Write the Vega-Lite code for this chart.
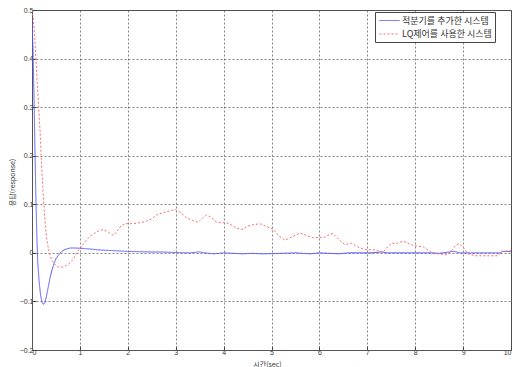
{
  "$schema": "https://vega.github.io/schema/vega-lite/v6.json",
  "width": 479,
  "height": 340,
  "autosize": {"type": "none"},
  "padding": {"left": 32, "top": 10, "right": 2, "bottom": 17},
  "background": "white",
  "config": {
    "view": {"stroke": "#555555", "strokeWidth": 1},
    "axis": {
      "domainColor": "#555555",
      "domainWidth": 1,
      "gridColor": "#444444",
      "gridDash": [2, 2],
      "gridWidth": 0.8,
      "gridOpacity": 0.8,
      "ticks": true,
      "tickColor": "#444444",
      "tickSize": -4,
      "labelFont": "Liberation Sans",
      "labelFontSize": 7,
      "labelColor": "#333333",
      "titleFont": "Noto Sans CJK KR",
      "titleFontSize": 7,
      "titleFontWeight": "normal",
      "titleColor": "#333333"
    }
  },
  "data": {
    "values": [
      {"t": 0, "v": 0.48, "s": "적분기를 추가한 시스템"},
      {"t": 0.02, "v": 0.42, "s": "적분기를 추가한 시스템"},
      {"t": 0.04, "v": 0.33, "s": "적분기를 추가한 시스템"},
      {"t": 0.06, "v": 0.22, "s": "적분기를 추가한 시스템"},
      {"t": 0.08, "v": 0.12, "s": "적분기를 추가한 시스템"},
      {"t": 0.10, "v": 0.04, "s": "적분기를 추가한 시스템"},
      {"t": 0.12, "v": -0.02, "s": "적분기를 추가한 시스템"},
      {"t": 0.15, "v": -0.06, "s": "적분기를 추가한 시스템"},
      {"t": 0.18, "v": -0.088, "s": "적분기를 추가한 시스템"},
      {"t": 0.21, "v": -0.102, "s": "적분기를 추가한 시스템"},
      {"t": 0.24, "v": -0.106, "s": "적분기를 추가한 시스템"},
      {"t": 0.27, "v": -0.102, "s": "적분기를 추가한 시스템"},
      {"t": 0.30, "v": -0.09, "s": "적분기를 추가한 시스템"},
      {"t": 0.34, "v": -0.07, "s": "적분기를 추가한 시스템"},
      {"t": 0.38, "v": -0.05, "s": "적분기를 추가한 시스템"},
      {"t": 0.42, "v": -0.034, "s": "적분기를 추가한 시스템"},
      {"t": 0.46, "v": -0.022, "s": "적분기를 추가한 시스템"},
      {"t": 0.50, "v": -0.012, "s": "적분기를 추가한 시스템"},
      {"t": 0.55, "v": -0.005, "s": "적분기를 추가한 시스템"},
      {"t": 0.60, "v": 0.001, "s": "적분기를 추가한 시스템"},
      {"t": 0.65, "v": 0.005, "s": "적분기를 추가한 시스템"},
      {"t": 0.72, "v": 0.008, "s": "적분기를 추가한 시스템"},
      {"t": 0.80, "v": 0.01, "s": "적분기를 추가한 시스템"},
      {"t": 0.90, "v": 0.01, "s": "적분기를 추가한 시스템"},
      {"t": 1.0, "v": 0.0095, "s": "적분기를 추가한 시스템"},
      {"t": 1.2, "v": 0.008, "s": "적분기를 추가한 시스템"},
      {"t": 1.4, "v": 0.006, "s": "적분기를 추가한 시스템"},
      {"t": 1.6, "v": 0.005, "s": "적분기를 추가한 시스템"},
      {"t": 1.8, "v": 0.004, "s": "적분기를 추가한 시스템"},
      {"t": 2.0, "v": 0.003, "s": "적분기를 추가한 시스템"},
      {"t": 2.4, "v": 0.002, "s": "적분기를 추가한 시스템"},
      {"t": 2.8, "v": 0.0015, "s": "적분기를 추가한 시스템"},
      {"t": 3.0, "v": 0.0005, "s": "적분기를 추가한 시스템"},
      {"t": 3.3, "v": 0, "s": "적분기를 추가한 시스템"},
      {"t": 3.5, "v": 0.002, "s": "적분기를 추가한 시스템"},
      {"t": 3.6, "v": 0, "s": "적분기를 추가한 시스템"},
      {"t": 3.8, "v": -0.002, "s": "적분기를 추가한 시스템"},
      {"t": 4.0, "v": 0, "s": "적분기를 추가한 시스템"},
      {"t": 4.4, "v": -0.002, "s": "적분기를 추가한 시스템"},
      {"t": 4.6, "v": -0.001, "s": "적분기를 추가한 시스템"},
      {"t": 4.8, "v": -0.002, "s": "적분기를 추가한 시스템"},
      {"t": 5.2, "v": -0.001, "s": "적분기를 추가한 시스템"},
      {"t": 5.5, "v": 0, "s": "적분기를 추가한 시스템"},
      {"t": 5.8, "v": -0.002, "s": "적분기를 추가한 시스템"},
      {"t": 6.0, "v": 0, "s": "적분기를 추가한 시스템"},
      {"t": 6.4, "v": -0.002, "s": "적분기를 추가한 시스템"},
      {"t": 6.6, "v": 0, "s": "적분기를 추가한 시스템"},
      {"t": 7.1, "v": 0, "s": "적분기를 추가한 시스템"},
      {"t": 7.3, "v": 0.002, "s": "적분기를 추가한 시스템"},
      {"t": 7.4, "v": 0, "s": "적분기를 추가한 시스템"},
      {"t": 8.3, "v": 0, "s": "적분기를 추가한 시스템"},
      {"t": 8.5, "v": -0.001, "s": "적분기를 추가한 시스템"},
      {"t": 8.8, "v": 0.003, "s": "적분기를 추가한 시스템"},
      {"t": 8.95, "v": 0, "s": "적분기를 추가한 시스템"},
      {"t": 9.5, "v": 0, "s": "적분기를 추가한 시스템"},
      {"t": 9.78, "v": 0, "s": "적분기를 추가한 시스템"},
      {"t": 9.82, "v": 0.003, "s": "적분기를 추가한 시스템"},
      {"t": 10, "v": 0.003, "s": "적분기를 추가한 시스템"},
      {"t": 0, "v": 0.5, "s": "LQ제어를 사용한 시스템"},
      {"t": 0.03, "v": 0.48, "s": "LQ제어를 사용한 시스템"},
      {"t": 0.06, "v": 0.44, "s": "LQ제어를 사용한 시스템"},
      {"t": 0.1, "v": 0.365, "s": "LQ제어를 사용한 시스템"},
      {"t": 0.14, "v": 0.3, "s": "LQ제어를 사용한 시스템"},
      {"t": 0.17, "v": 0.247, "s": "LQ제어를 사용한 시스템"},
      {"t": 0.2, "v": 0.18, "s": "LQ제어를 사용한 시스템"},
      {"t": 0.24, "v": 0.11, "s": "LQ제어를 사용한 시스템"},
      {"t": 0.28, "v": 0.055, "s": "LQ제어를 사용한 시스템"},
      {"t": 0.31, "v": 0.027, "s": "LQ제어를 사용한 시스템"},
      {"t": 0.35, "v": 0.005, "s": "LQ제어를 사용한 시스템"},
      {"t": 0.4, "v": -0.012, "s": "LQ제어를 사용한 시스템"},
      {"t": 0.45, "v": -0.021, "s": "LQ제어를 사용한 시스템"},
      {"t": 0.52, "v": -0.028, "s": "LQ제어를 사용한 시스템"},
      {"t": 0.58, "v": -0.03, "s": "LQ제어를 사용한 시스템"},
      {"t": 0.65, "v": -0.029, "s": "LQ제어를 사용한 시스템"},
      {"t": 0.72, "v": -0.026, "s": "LQ제어를 사용한 시스템"},
      {"t": 0.8, "v": -0.02, "s": "LQ제어를 사용한 시스템"},
      {"t": 0.86, "v": -0.013, "s": "LQ제어를 사용한 시스템"},
      {"t": 0.93, "v": 0, "s": "LQ제어를 사용한 시스템"},
      {"t": 1.0, "v": 0.008, "s": "LQ제어를 사용한 시스템"},
      {"t": 1.1, "v": 0.022, "s": "LQ제어를 사용한 시스템"},
      {"t": 1.21, "v": 0.034, "s": "LQ제어를 사용한 시스템"},
      {"t": 1.3, "v": 0.04, "s": "LQ제어를 사용한 시스템"},
      {"t": 1.4, "v": 0.046, "s": "LQ제어를 사용한 시스템"},
      {"t": 1.49, "v": 0.048, "s": "LQ제어를 사용한 시스템"},
      {"t": 1.6, "v": 0.042, "s": "LQ제어를 사용한 시스템"},
      {"t": 1.7, "v": 0.036, "s": "LQ제어를 사용한 시스템"},
      {"t": 1.78, "v": 0.045, "s": "LQ제어를 사용한 시스템"},
      {"t": 1.86, "v": 0.056, "s": "LQ제어를 사용한 시스템"},
      {"t": 1.95, "v": 0.06, "s": "LQ제어를 사용한 시스템"},
      {"t": 2.1, "v": 0.06, "s": "LQ제어를 사용한 시스템"},
      {"t": 2.25, "v": 0.062, "s": "LQ제어를 사용한 시스템"},
      {"t": 2.39, "v": 0.065, "s": "LQ제어를 사용한 시스템"},
      {"t": 2.5, "v": 0.07, "s": "LQ제어를 사용한 시스템"},
      {"t": 2.6, "v": 0.078, "s": "LQ제어를 사용한 시스템"},
      {"t": 2.74, "v": 0.083, "s": "LQ제어를 사용한 시스템"},
      {"t": 2.9, "v": 0.087, "s": "LQ제어를 사용한 시스템"},
      {"t": 2.99, "v": 0.089, "s": "LQ제어를 사용한 시스템"},
      {"t": 3.1, "v": 0.083, "s": "LQ제어를 사용한 시스템"},
      {"t": 3.23, "v": 0.072, "s": "LQ제어를 사용한 시스템"},
      {"t": 3.35, "v": 0.067, "s": "LQ제어를 사용한 시스템"},
      {"t": 3.47, "v": 0.063, "s": "LQ제어를 사용한 시스템"},
      {"t": 3.56, "v": 0.072, "s": "LQ제어를 사용한 시스템"},
      {"t": 3.65, "v": 0.078, "s": "LQ제어를 사용한 시스템"},
      {"t": 3.75, "v": 0.072, "s": "LQ제어를 사용한 시스템"},
      {"t": 3.86, "v": 0.063, "s": "LQ제어를 사용한 시스템"},
      {"t": 4.0, "v": 0.062, "s": "LQ제어를 사용한 시스템"},
      {"t": 4.1, "v": 0.061, "s": "LQ제어를 사용한 시스템"},
      {"t": 4.25, "v": 0.052, "s": "LQ제어를 사용한 시스템"},
      {"t": 4.38, "v": 0.048, "s": "LQ제어를 사용한 시스템"},
      {"t": 4.5, "v": 0.055, "s": "LQ제어를 사용한 시스템"},
      {"t": 4.62, "v": 0.058, "s": "LQ제어를 사용한 시스템"},
      {"t": 4.76, "v": 0.06, "s": "LQ제어를 사용한 시스템"},
      {"t": 4.9, "v": 0.054, "s": "LQ제어를 사용한 시스템"},
      {"t": 5.04, "v": 0.048, "s": "LQ제어를 사용한 시스템"},
      {"t": 5.15, "v": 0.035, "s": "LQ제어를 사용한 시스템"},
      {"t": 5.28, "v": 0.026, "s": "LQ제어를 사용한 시스템"},
      {"t": 5.45, "v": 0.034, "s": "LQ제어를 사용한 시스템"},
      {"t": 5.6, "v": 0.041, "s": "LQ제어를 사용한 시스템"},
      {"t": 5.75, "v": 0.035, "s": "LQ제어를 사용한 시스템"},
      {"t": 5.87, "v": 0.031, "s": "LQ제어를 사용한 시스템"},
      {"t": 6.0, "v": 0.032, "s": "LQ제어를 사용한 시스템"},
      {"t": 6.1, "v": 0.032, "s": "LQ제어를 사용한 시스템"},
      {"t": 6.2, "v": 0.037, "s": "LQ제어를 사용한 시스템"},
      {"t": 6.28, "v": 0.04, "s": "LQ제어를 사용한 시스템"},
      {"t": 6.4, "v": 0.028, "s": "LQ제어를 사용한 시스템"},
      {"t": 6.53, "v": 0.017, "s": "LQ제어를 사용한 시스템"},
      {"t": 6.67, "v": 0.02, "s": "LQ제어를 사용한 시스템"},
      {"t": 6.8, "v": 0.012, "s": "LQ제어를 사용한 시스템"},
      {"t": 6.95, "v": 0.007, "s": "LQ제어를 사용한 시스템"},
      {"t": 7.16, "v": 0.006, "s": "LQ제어를 사용한 시스템"},
      {"t": 7.33, "v": 0.001, "s": "LQ제어를 사용한 시스템"},
      {"t": 7.42, "v": 0.012, "s": "LQ제어를 사용한 시스템"},
      {"t": 7.51, "v": 0.02, "s": "LQ제어를 사용한 시스템"},
      {"t": 7.61, "v": 0.019, "s": "LQ제어를 사용한 시스템"},
      {"t": 7.75, "v": 0.024, "s": "LQ제어를 사용한 시스템"},
      {"t": 7.85, "v": 0.02, "s": "LQ제어를 사용한 시스템"},
      {"t": 7.96, "v": 0.015, "s": "LQ제어를 사용한 시스템"},
      {"t": 8.17, "v": 0.012, "s": "LQ제어를 사용한 시스템"},
      {"t": 8.34, "v": 0.001, "s": "LQ제어를 사용한 시스템"},
      {"t": 8.48, "v": -0.002, "s": "LQ제어를 사용한 시스템"},
      {"t": 8.66, "v": -0.004, "s": "LQ제어를 사용한 시스템"},
      {"t": 8.76, "v": 0.004, "s": "LQ제어를 사용한 시스템"},
      {"t": 8.85, "v": 0.016, "s": "LQ제어를 사용한 시스템"},
      {"t": 8.92, "v": 0.019, "s": "LQ제어를 사용한 시스템"},
      {"t": 9.0, "v": 0.012, "s": "LQ제어를 사용한 시스템"},
      {"t": 9.1, "v": -0.002, "s": "LQ제어를 사용한 시스템"},
      {"t": 9.25, "v": -0.006, "s": "LQ제어를 사용한 시스템"},
      {"t": 9.5, "v": -0.006, "s": "LQ제어를 사용한 시스템"},
      {"t": 9.73, "v": -0.006, "s": "LQ제어를 사용한 시스템"},
      {"t": 9.8, "v": 0.003, "s": "LQ제어를 사용한 시스템"},
      {"t": 10, "v": 0.004, "s": "LQ제어를 사용한 시스템"}
    ]
  },
  "mark": {"type": "line", "strokeWidth": 1, "clip": true},
  "encoding": {
    "x": {
      "field": "t",
      "type": "quantitative",
      "scale": {"domain": [0, 10], "nice": false, "zero": false},
      "axis": {
        "values": [0, 1, 2, 3, 4, 5, 6, 7, 8, 9, 10],
        "format": "d",
        "grid": true,
        "title": "시간(sec)",
        "labelPadding": 2,
        "titleY": 16,
        "titleBaseline": "alphabetic",
        "titleX": 235
      }
    },
    "y": {
      "field": "v",
      "type": "quantitative",
      "scale": {"domain": [-0.2, 0.5], "nice": false, "zero": false},
      "axis": {
        "values": [-0.2, -0.1, 0, 0.1, 0.2, 0.3, 0.4, 0.5],
        "format": ".1~f",
        "grid": true,
        "title": "응답(response)",
        "labelPadding": 3,
        "titleX": -18,
        "titleY": 172,
        "titleBaseline": "alphabetic"
      }
    },
    "color": {
      "field": "s",
      "type": "nominal",
      "scale": {
        "domain": ["적분기를 추가한 시스템", "LQ제어를 사용한 시스템"],
        "range": ["#5656ff", "#ff6a6a"]
      },
      "legend": {
        "title": null,
        "orient": "none",
        "legendX": 343,
        "legendY": 2,
        "strokeColor": "#444444",
        "fillColor": "white",
        "padding": 3,
        "symbolType": "M-1,0L3,0",
        "symbolSize": 100,
        "symbolStrokeWidth": 1,
        "symbolOffset": 1,
        "labelOffset": 12,
        "labelFont": "Noto Sans CJK KR",
        "labelFontSize": 9,
        "labelColor": "#333333",
        "rowPadding": 2.5,
        "cornerRadius": 0
      }
    },
    "strokeDash": {
      "field": "s",
      "type": "nominal",
      "scale": {
        "domain": ["적분기를 추가한 시스템", "LQ제어를 사용한 시스템"],
        "range": [[1, 0], [2, 2]]
      },
      "legend": {
        "title": null,
        "orient": "none",
        "legendX": 343,
        "legendY": 2,
        "strokeColor": "#444444",
        "fillColor": "white",
        "padding": 3,
        "symbolType": "M-1,0L3,0",
        "symbolSize": 100,
        "symbolStrokeWidth": 1,
        "symbolOffset": 1,
        "labelOffset": 12,
        "labelFont": "Noto Sans CJK KR",
        "labelFontSize": 9,
        "labelColor": "#333333",
        "rowPadding": 2.5,
        "cornerRadius": 0
      }
    }
  }
}
